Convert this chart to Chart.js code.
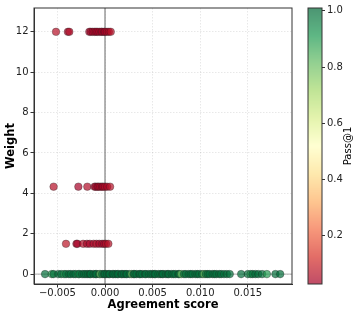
<!DOCTYPE html>
<html lang="en">
<head>
    <meta charset="UTF-8">
    <title>Agreement score vs weight</title>
    <style>
        body { margin: 0; background: #fff; }
        #wrap { position: relative; width: 358px; height: 316px; }
        #wrap canvas { position: absolute; top: 0; }
    </style>
</head>
<body>
    <script src="https://cdn.jsdelivr.net/npm/chart.js@4.4.1/dist/chart.umd.min.js"></script>

    <div id="wrap">
        <canvas id="main" width="358" height="316" style="left:0"></canvas>
        <canvas id="cbar" width="58" height="316" style="left:300px"></canvas>
    </div>

    <script>
        // rows of the scatter: one weight per row, agreement score + pass@1 per point
        var weights = [12, 4.33, 1.5, 0];

        var scoreW12 = [-0.00515, -0.0039, -0.00375, -0.00165, -0.0015, -0.0013, -0.0011, -0.00095, -0.0008,
            -0.0006, -0.0004, -0.0003, -0.0001, 0.0, 0.0002, 0.0004, 0.0006];
        var passW12 = [0.06, 0.04, 0.05, 0.03, 0.04, 0.03, 0.05, 0.04, 0.03, 0.04, 0.05, 0.03, 0.04, 0.03, 0.05, 0.04, 0.06];

        var scoreW4 = [-0.0054, -0.0028, -0.00186, -0.0011, -0.00098, -0.0008, -0.00068, -0.0005, -0.00032,
            -0.0002, 0.0, 0.00022, 0.00053];
        var passW4 = [0.06, 0.03, 0.05, 0.03, 0.04, 0.03, 0.04, 0.05, 0.03, 0.04, 0.05, 0.04, 0.06];

        var scoreW15 = [-0.0041, -0.003, -0.0029, -0.0023, -0.0019, -0.0016, -0.0012, -0.0009, -0.0006,
            -0.0003, -0.0001, 0.0001, 0.00035];
        var passW15 = [0.07, 0.04, 0.03, 0.05, 0.04, 0.03, 0.04, 0.05, 0.03, 0.04, 0.03, 0.05, 0.06];

        var scoreW0 = [-0.0063, -0.0056, -0.0054, -0.0049, -0.0046, -0.0043, -0.0041, -0.0038, -0.0036,
            -0.0033, -0.0031, -0.0028, -0.0027, -0.0024, -0.0022, -0.002, -0.0018, -0.0016, -0.0015,
            -0.0012, -0.001, -0.0009, -0.0006, -0.0005, -0.0003, -0.0001, 0.0, 0.0002, 0.0004, 0.0005,
            0.0008, 0.0009, 0.0011, 0.0013, 0.0014, 0.0017, 0.0018, 0.002, 0.0022, 0.0023, 0.0026,
            0.0028, 0.003, 0.0031, 0.0033, 0.0036, 0.0037, 0.0039, 0.0042, 0.0043, 0.0046, 0.0048,
            0.005, 0.0052, 0.0053, 0.0056, 0.0058, 0.006, 0.0061, 0.0064, 0.0066, 0.0067, 0.007,
            0.0072, 0.0074, 0.0077, 0.0078, 0.008, 0.0083, 0.0085, 0.0088, 0.009, 0.0092, 0.0095,
            0.0097, 0.0099, 0.0102, 0.0104, 0.0106, 0.0108, 0.011, 0.0113, 0.0115, 0.0117, 0.012,
            0.0122, 0.0125, 0.0128, 0.0131, 0.0143, 0.015, 0.0153, 0.0155, 0.0158, 0.0161, 0.0165,
            0.017, 0.0179, 0.0184];
        var passW0 = [1, 0.9, 1, 1, 1, 0.9, 1, 1, 1,
            1, 1, 0.9, 1, 1, 1, 1, 1, 1, 1,
            1, 1, 1, 1, 0.8, 1, 1, 1, 1, 1, 1,
            1, 1, 1, 1, 1, 1, 1, 1, 1, 1, 1,
            0.8, 1, 1, 1, 1, 1, 1, 1, 1, 1, 1,
            1, 1, 1, 1, 1, 1, 1, 1, 1, 1, 1,
            1, 1, 1, 1, 0.8, 1, 1, 1, 1, 1, 1,
            1, 1, 1, 0.8, 1, 1, 1, 1, 1, 1, 1,
            1, 1, 1, 1, 1, 1, 0.9, 1, 1, 1,
            1, 0.9, 1];

        var rowScores = [scoreW12, scoreW4, scoreW15, scoreW0];
        var rowPass = [passW12, passW4, passW15, passW0];

        var xTicks = [-0.005, 0.0, 0.005, 0.010, 0.015];
        var yTicks = [0, 2, 4, 6, 8, 10, 12];
        var cbarTicks = [0.2, 0.4, 0.6, 0.8, 1.0];
        var passMin = 0.028, passMax = 1.01;

        // RdYlGn
        var cmapStops = ['#a50026', '#d73027', '#f46d43', '#fdae61', '#fee08b', '#ffffbf',
            '#d9ef8b', '#a6d96a', '#66bd63', '#1a9850', '#006837'];
        var markerAlpha = 0.7;

        function hexToRgb(h) {
            return [parseInt(h.substr(1, 2), 16), parseInt(h.substr(3, 2), 16), parseInt(h.substr(5, 2), 16)];
        }

        function cmap(p, alpha) {
            let t = (p - passMin) / (passMax - passMin);
            t = Math.max(0, Math.min(1, t)) * (cmapStops.length - 1);
            let i = Math.min(Math.floor(t), cmapStops.length - 2);
            let f = t - i;
            let a = hexToRgb(cmapStops[i]), b = hexToRgb(cmapStops[i + 1]);
            let c = a.map((v, k) => Math.round(v + (b[k] - v) * f));
            return 'rgba(' + c[0] + ',' + c[1] + ',' + c[2] + ',' + alpha + ')';
        }

        function fmtTick(v) {
            let s = Math.abs(v).toFixed(3);
            return v < -1e-9 ? '\u2212' + s : s;
        }

        var font = "'DejaVu Sans', sans-serif";
        var axisColor = '#333';
        var gridColor = 'rgba(0,0,0,0.09)';

        var datasets = weights.map((w, r) => ({
            label: 'w' + w,
            data: rowScores[r].map(s => ({x: s, y: w})),
            pointBackgroundColor: rowPass[r].map(p => cmap(p, markerAlpha)),
            pointBorderColor: 'rgba(30,30,30,0.55)',
            pointBorderWidth: 0.6,
            pointRadius: 3.8,
            pointHoverRadius: 3.8
        }));

        // axvline/axhline at zero plus the full frame
        var refLines = {
            id: 'refLines',
            beforeDatasetsDraw(chart) {
                let ctx = chart.ctx, a = chart.chartArea;
                let x0 = chart.scales.x.getPixelForValue(0);
                let y0 = chart.scales.y.getPixelForValue(0);
                ctx.save();
                ctx.strokeStyle = 'rgba(128,128,128,0.8)';
                ctx.lineWidth = 1.5;
                ctx.beginPath();
                ctx.moveTo(x0, a.top);
                ctx.lineTo(x0, a.bottom);
                ctx.stroke();
                ctx.lineWidth = 0.8;
                ctx.beginPath();
                ctx.moveTo(a.left, y0);
                ctx.lineTo(a.right, y0);
                ctx.stroke();
                ctx.restore();
            },
            afterDraw(chart) {
                let ctx = chart.ctx, a = chart.chartArea;
                ctx.save();
                ctx.strokeStyle = axisColor;
                ctx.lineWidth = 1;
                ctx.strokeRect(a.left, a.top, a.right - a.left, a.bottom - a.top);
                ctx.restore();
            }
        };

        new Chart(document.getElementById('main').getContext('2d'), {
            type: 'scatter',
            data: { datasets: datasets },
            options: {
                responsive: false,
                animation: false,
                events: [],
                layout: { padding: { left: 0, top: 7, right: 66, bottom: 0 } },
                plugins: { legend: { display: false }, tooltip: { enabled: false } },
                scales: {
                    x: {
                        type: 'linear',
                        min: -0.00746,
                        max: 0.01964,
                        afterBuildTicks: s => { s.ticks = xTicks.map(v => ({value: v})); },
                        afterFit: s => { s.height = 32; },
                        grid: { color: gridColor, tickColor: axisColor, tickLength: 3.5 },
                        border: { color: axisColor, dash: [1.5, 1.5] },
                        ticks: {
                            color: '#222', font: { family: font, size: 10 }, padding: 0,
                            maxRotation: 0, callback: v => fmtTick(v)
                        },
                        title: {
                            display: true, text: 'Agreement score', color: '#000',
                            font: { family: font, size: 11.5, weight: 'bold' }, padding: { top: 0, bottom: 4 }
                        }
                    },
                    y: {
                        type: 'linear',
                        min: -0.49,
                        max: 13.18,
                        afterBuildTicks: s => { s.ticks = yTicks.map(v => ({value: v})); },
                        afterFit: s => { s.width = 34; },
                        grid: { color: gridColor, tickColor: axisColor, tickLength: 3.5 },
                        border: { color: axisColor, dash: [1.5, 1.5] },
                        ticks: { color: '#222', font: { family: font, size: 10 }, padding: 2 },
                        title: {
                            display: true, text: 'Weight', color: '#000',
                            font: { family: font, size: 11.5, weight: 'bold' }, padding: { top: 4, bottom: 0 }
                        }
                    }
                }
            },
            plugins: [refLines]
        });

        // colorbar as its own little chart, ticks from its own scale
        var cbarFill = {
            id: 'cbarFill',
            beforeDraw(chart) {
                let ctx = chart.ctx, a = chart.chartArea, s = chart.scales.y;
                ctx.save();
                for (let py = Math.floor(a.top); py < a.bottom; py++) {
                    let v = s.getValueForPixel(py + 0.5);
                    ctx.fillStyle = cmap(v, markerAlpha);
                    ctx.fillRect(a.left, py, a.right - a.left, 1);
                }
                ctx.strokeStyle = axisColor;
                ctx.lineWidth = 1;
                ctx.strokeRect(a.left, a.top, a.right - a.left, a.bottom - a.top);
                ctx.restore();
            },
            afterDraw(chart) {
                // label reads bottom-to-top like matplotlib's colorbar label
                let ctx = chart.ctx, a = chart.chartArea;
                ctx.save();
                ctx.translate(48, (a.top + a.bottom) / 2);
                ctx.rotate(-Math.PI / 2);
                ctx.fillStyle = '#000';
                ctx.font = '10px ' + font;
                ctx.textAlign = 'center';
                ctx.textBaseline = 'middle';
                ctx.fillText('Pass@1', 0, 0);
                ctx.restore();
            }
        };

        new Chart(document.getElementById('cbar').getContext('2d'), {
            type: 'scatter',
            data: { datasets: [{ data: [] }] },
            options: {
                responsive: false,
                animation: false,
                events: [],
                layout: { padding: { left: 8, top: 7, right: 0, bottom: 32 } },
                plugins: { legend: { display: false }, tooltip: { enabled: false } },
                scales: {
                    x: { display: false, min: 0, max: 1 },
                    y: {
                        position: 'right',
                        min: passMin,
                        max: passMax,
                        afterBuildTicks: s => { s.ticks = cbarTicks.map(v => ({value: v})); },
                        afterFit: s => { s.width = 36; },
                        grid: { drawOnChartArea: false, tickColor: axisColor, tickLength: 3 },
                        border: { display: false },
                        ticks: { color: '#222', font: { family: font, size: 10 }, padding: 2, callback: v => v.toFixed(1) }
                    }
                }
            },
            plugins: [cbarFill]
        });
    </script>
</body>
</html>
